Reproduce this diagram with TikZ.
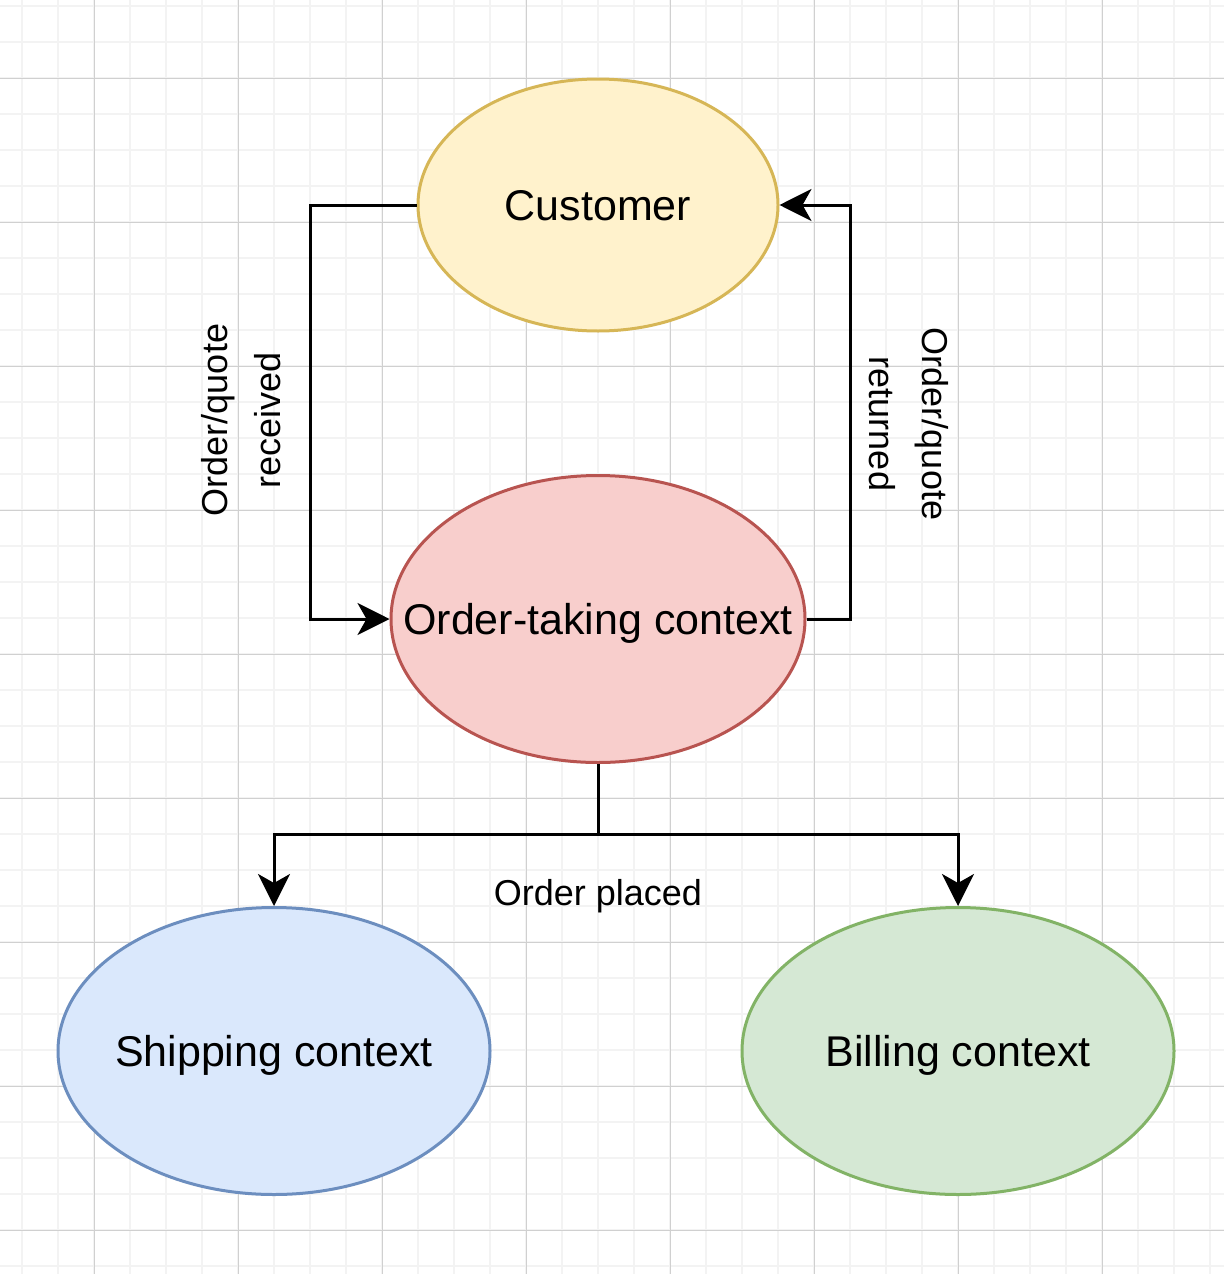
\documentclass[tikz,border=0pt]{standalone}
\usepackage{fontspec}
\setmainfont{Liberation Sans}
\usetikzlibrary{shapes.geometric,arrows.meta}
\definecolor{gridminor}{HTML}{F3F3F3}
\definecolor{gridmajor}{HTML}{D0D0D0}
\definecolor{custfill}{HTML}{FFF2CC}
\definecolor{custline}{HTML}{D6B656}
\definecolor{otfill}{HTML}{F8CECC}
\definecolor{otline}{HTML}{B85450}
\definecolor{shipfill}{HTML}{DAE8FC}
\definecolor{shipline}{HTML}{6C8EBF}
\definecolor{billfill}{HTML}{D5E8D4}
\definecolor{billline}{HTML}{82B366}
\newcommand{\zw}[1]{\makebox[0pt]{#1}}
\tikzset{
  minorline/.style={draw=gridminor, line width=1.5pt},
  majorline/.style={draw=gridmajor, line width=1pt},
  ctx/.style={ellipse, line width=3pt, inner sep=0pt, text depth=0pt, font=\fontsize{43}{52}\selectfont},
  conn/.style={line width=3pt, black, -{Stealth[length=32pt, width=32pt, inset=9pt]}},
  plainconn/.style={line width=3pt, black},
  lbl/.style={inner sep=0pt, align=center, font=\fontsize{36}{53}\selectfont}
}
\begin{document}
\begin{tikzpicture}[x=1pt, y=-1pt]
\useasboundingbox (0,0) rectangle (1224,1274);
\fill[white] (0,0) rectangle (1224,1274);
% grid
\foreach \x in {22,58,...,1224} \draw[minorline] (\x,0) -- (\x,1274);
\foreach \y in {6,42,...,1274} \draw[minorline] (0,\y) -- (1224,\y);
\foreach \x in {94,238,...,1224} \draw[majorline] (\x,0) -- (\x,1274);
\foreach \y in {78,222,...,1274} \draw[majorline] (0,\y) -- (1224,\y);
% nodes
\node[ctx, draw=custline, fill=custfill, minimum width=360pt, minimum height=252pt] (cust) at (598,205) {\zw{Customer}};
\node[ctx, draw=otline, fill=otfill, minimum width=414pt, minimum height=287pt] (ot) at (598,619) {\zw{Order-taking context}};
\node[ctx, draw=shipline, fill=shipfill, minimum width=432pt, minimum height=287pt] (ship) at (274,1051) {\zw{Shipping context}};
\node[ctx, draw=billline, fill=billfill, minimum width=432pt, minimum height=287pt] (bill) at (958,1051) {\zw{Billing context}};
% connectors
\coordinate (lc) at (310,205);
\coordinate (rc) at (850,619);
\coordinate (bj) at (598,834);
\coordinate (sj) at (274,834);
\coordinate (bjr) at (958,834);
\draw[conn] (cust.west) -- (lc) |- (ot.west);
\draw[conn] (ot.east) -- (rc) |- (cust.east);
\draw[plainconn] (ot.south) -- (bj);
\draw[conn] (bj) -- (sj) -- (ship.north);
\draw[conn] (bj) -- (bjr) -- (bill.north);
% labels
\node[lbl, rotate=90] (lrec) at (241,420) {Order/quote\\received};
\node[lbl, rotate=-90] (lret) at (909,424) {Order/quote\\returned};
\node[lbl, anchor=base] (lplaced) at (598,905) {Order placed};
\end{tikzpicture}
\end{document}
